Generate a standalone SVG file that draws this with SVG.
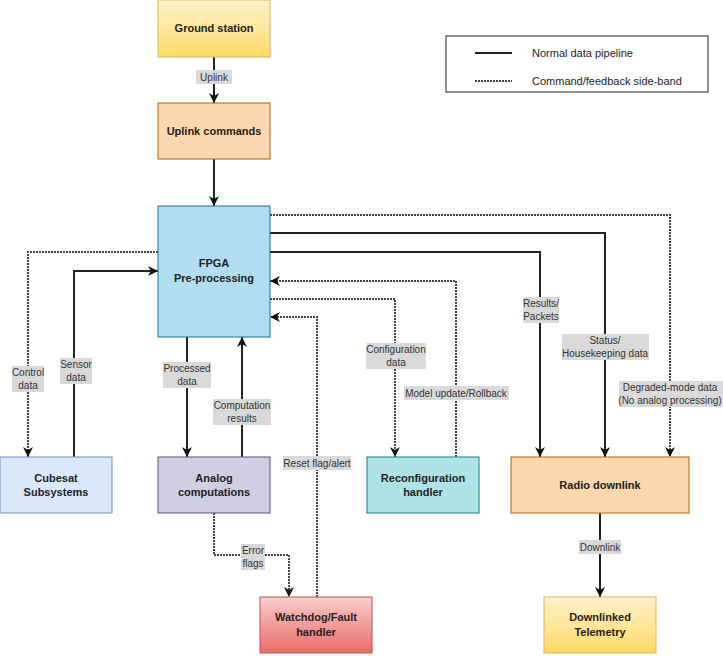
<svg xmlns="http://www.w3.org/2000/svg" width="723" height="656" viewBox="0 0 723 656">
<defs>
<linearGradient id="gYellow" x1="0" y1="0" x2="0" y2="1"><stop offset="0" stop-color="#fff2cc"/><stop offset="1" stop-color="#ffd966"/></linearGradient>
<linearGradient id="gRed" x1="0" y1="0" x2="0" y2="1"><stop offset="0" stop-color="#f8cecc"/><stop offset="1" stop-color="#ea6b66"/></linearGradient>
<marker id="arr" viewBox="0 0 10 10" refX="10" refY="5" markerWidth="10" markerHeight="10" markerUnits="userSpaceOnUse" orient="auto"><path d="M0,0 L10,5 L0,10 L3,5 z" fill="#111"/></marker>
</defs>
<style>
.node text{font-family:"Liberation Sans",Arial,sans-serif;font-size:11px;font-weight:bold;fill:#222;text-anchor:middle}
.solid{fill:none;stroke:#222;stroke-width:2}
.dot{fill:none;stroke:#444;stroke-width:2;stroke-dasharray:2 1}
.lbl rect{fill:#d9d9d9}
.lbl text{font-family:"Liberation Sans",Arial,sans-serif;font-size:10px;fill:#333;text-anchor:middle}
.legend text{font-family:"Liberation Sans",Arial,sans-serif;font-size:11px;fill:#222}
</style>
<rect width="723" height="656" fill="#ffffff"/>
<g id="connectors">
<path class="solid" d="M214,57 V103" marker-end="url(#arr)"/>
<path class="solid" d="M214,159 V206" marker-end="url(#arr)"/>
<path class="dot" d="M270,215 H670 V457" marker-end="url(#arr)"/>
<path class="solid" d="M270,233 H605 V457" marker-end="url(#arr)"/>
<path class="solid" d="M270,252 H540 V457" marker-end="url(#arr)"/>
<path class="dot" d="M456,457 V281 H270" marker-end="url(#arr)"/>
<path class="dot" d="M270,299 H395 V457" marker-end="url(#arr)"/>
<path class="dot" d="M317,597 V317 H270" marker-end="url(#arr)"/>
<path class="dot" d="M158,252 H28 V457" marker-end="url(#arr)"/>
<path class="solid" d="M74,457 V271 H158" marker-end="url(#arr)"/>
<path class="solid" d="M187,337 V457" marker-end="url(#arr)"/>
<path class="solid" d="M242,457 V337" marker-end="url(#arr)"/>
<path class="dot" d="M214,513 V555 H289 V597" marker-end="url(#arr)"/>
<path class="solid" d="M600,513 V597" marker-end="url(#arr)"/>
<g class="lbl">
<rect x="196" y="70" width="36" height="14"/><text x="214" y="81">Uplink</text>
<rect x="579" y="540" width="42" height="14"/><text x="600" y="551">Downlink</text>
<rect x="523" y="297" width="36" height="26"/><text x="541" y="307">Results/</text><text x="541" y="320">Packets</text>
<rect x="562" y="334" width="87" height="26"/><text x="605" y="344">Status/</text><text x="605" y="357">Housekeeping data</text>
<rect x="619" y="381" width="104" height="26"/><text x="670" y="391">Degraded-mode data</text><text x="670" y="404">(No analog processing)</text>
<rect x="366" y="343" width="60" height="26"/><text x="396" y="353">Configuration</text><text x="396" y="366">data</text>
<rect x="404" y="386" width="105" height="14"/><text x="456" y="397">Model update/Rollback</text>
<rect x="12" y="366" width="32" height="26"/><text x="28" y="376">Control</text><text x="28" y="389">data</text>
<rect x="60" y="358" width="32" height="26"/><text x="76" y="368">Sensor</text><text x="76" y="381">data</text>
<rect x="163" y="362" width="48" height="26"/><text x="187" y="372">Processed</text><text x="187" y="385">data</text>
<rect x="213" y="399" width="58" height="26"/><text x="242" y="409">Computation</text><text x="242" y="422">results</text>
<rect x="283" y="456" width="68" height="14"/><text x="317" y="467">Reset flag/alert</text>
<rect x="241" y="544" width="24" height="26"/><text x="253" y="554">Error</text><text x="253" y="567">flags</text>
</g>
</g>
<g id="ground" class="node"><rect x="158" y="0" width="112" height="57" fill="url(#gYellow)" stroke="#d6b656"/><text x="214" y="32">Ground station</text></g>
<g id="uplink" class="node"><rect x="158" y="103" width="112" height="56" fill="#fad7ac" stroke="#b46504"/><text x="214" y="135">Uplink commands</text></g>
<g id="fpga" class="node"><rect x="158" y="206" width="112" height="131" fill="#b1ddf0" stroke="#10739e"/><text x="214" y="267">FPGA</text><text x="214" y="282">Pre-processing</text></g>
<g id="cubesat" class="node"><rect x="0" y="457" width="112" height="56" fill="#dae8fc" stroke="#6c8ebf"/><text x="56" y="482">Cubesat</text><text x="56" y="496">Subsystems</text></g>
<g id="analog" class="node"><rect x="158" y="457" width="112" height="56" fill="#d0cee2" stroke="#56517e"/><text x="214" y="482">Analog</text><text x="214" y="496">computations</text></g>
<g id="reconfig" class="node"><rect x="367" y="457" width="112" height="56" fill="#b0e3e6" stroke="#0e8088"/><text x="423" y="482">Reconfiguration</text><text x="423" y="496">handler</text></g>
<g id="radio" class="node"><rect x="511" y="457" width="178" height="56" fill="#fad7ac" stroke="#b46504"/><text x="600" y="489">Radio downlink</text></g>
<g id="watchdog" class="node"><rect x="260" y="597" width="112" height="56" fill="url(#gRed)" stroke="#b85450"/><text x="316" y="621">Watchdog/Fault</text><text x="316" y="636">handler</text></g>
<g id="telemetry" class="node"><rect x="544" y="597" width="112" height="56" fill="url(#gYellow)" stroke="#d6b656"/><text x="600" y="621">Downlinked</text><text x="600" y="636">Telemetry</text></g>
<g id="legend" class="legend">
<rect x="446" y="36" width="262" height="56" fill="#ffffff" stroke="#222"/>
<line x1="475" y1="53" x2="512" y2="53" stroke="#222" stroke-width="2"/>
<line x1="475" y1="81" x2="512" y2="81" stroke="#444" stroke-width="2" stroke-dasharray="2 1"/>
<text x="532" y="57">Normal data pipeline</text>
<text x="532" y="85">Command/feedback side-band</text>
</g>
</svg>
